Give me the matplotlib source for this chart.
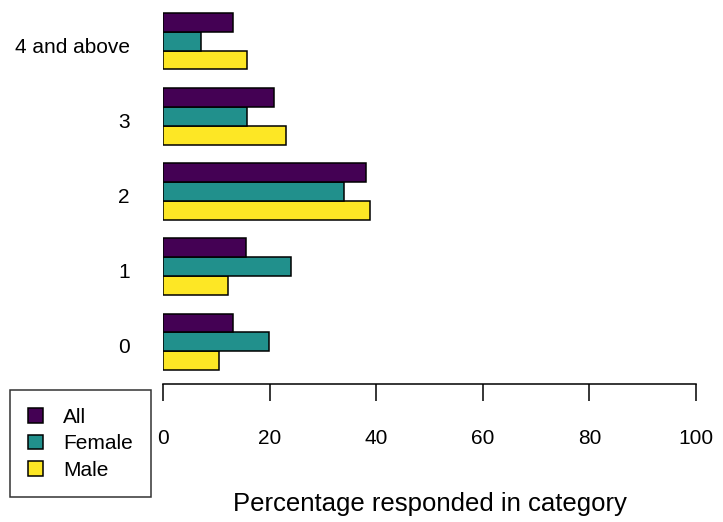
import matplotlib
matplotlib.use("Agg")
import matplotlib.pyplot as plt
import matplotlib.transforms as mtransforms
from matplotlib.patches import Patch
import numpy as np

plt.rcParams['font.family'] = ['Liberation Sans', 'DejaVu Sans']

# number of children reported, bottom to top
categories = ["0", "1", "2", "3", "4 and above"]
series = ["All", "Female", "Male"]
pct_all = [13.2, 15.5, 38.0, 20.9, 13.2]
pct_female = [19.9, 24.1, 34.0, 15.8, 7.1]
pct_male = [10.6, 12.2, 38.8, 23.1, 15.8]
colors = ["#440154", "#21908C", "#FDE725"]

fig = plt.figure(figsize=(7.23, 5.22), dpi=100)
ax = fig.add_axes([163 / 723, (522 - 384) / 522, 533 / 723, 384 / 522])

# each group: 3 bars of height 1, with one empty slot below
base = np.arange(len(categories)) * 4
ax.barh(base + 1.5, pct_male, height=1, align="center", color=colors[2],
        edgecolor="black", linewidth=1.1)
ax.barh(base + 2.5, pct_female, height=1, align="center", color=colors[1],
        edgecolor="black", linewidth=1.1)
ax.barh(base + 3.5, pct_all, height=1, align="center", color=colors[0],
        edgecolor="black", linewidth=1.1)

ax.set_xlim(0, 100)
ax.set_ylim(0.255, 20.69)

for s in ["left", "top", "right"]:
    ax.spines[s].set_visible(False)
ax.spines["bottom"].set_bounds(0, 100)
ax.spines["bottom"].set_linewidth(1.1)

ax.set_xticks([0, 20, 40, 60, 80, 100])
ax.tick_params(axis="x", direction="out", length=12.5, width=1.1, pad=20,
               labelsize=15)
ax.set_yticks(base + 2.5)
ax.set_yticklabels(categories)
ax.tick_params(axis="y", length=0, pad=24, labelsize=15)
# group labels sit a little below the group centre
shift = mtransforms.ScaledTranslation(0, -4 / 100, fig.dpi_scale_trans)
for lab in ax.get_yticklabels():
    lab.set_transform(lab.get_transform() + shift)

ax.set_xlabel("Percentage responded in category", fontsize=18.5)
ax.xaxis.set_label_coords(0.5, -(511 - 384) / 384)
ax.xaxis.label.set_va("baseline")

handles = [Patch(facecolor=c, edgecolor="black", linewidth=1.1) for c in colors]
leg = fig.legend(handles, series, loc="upper left",
                 bbox_to_anchor=(10 / 723, 1 - 390 / 522),
                 fontsize=15, frameon=True, fancybox=False, shadow=False,
                 edgecolor="black", borderaxespad=0, borderpad=0.85,
                 handlelength=0.75, handleheight=0.7, handletextpad=0.95,
                 labelspacing=0.36)
leg.get_frame().set_linewidth(1.1)

fig.savefig("out.png", dpi=100)
